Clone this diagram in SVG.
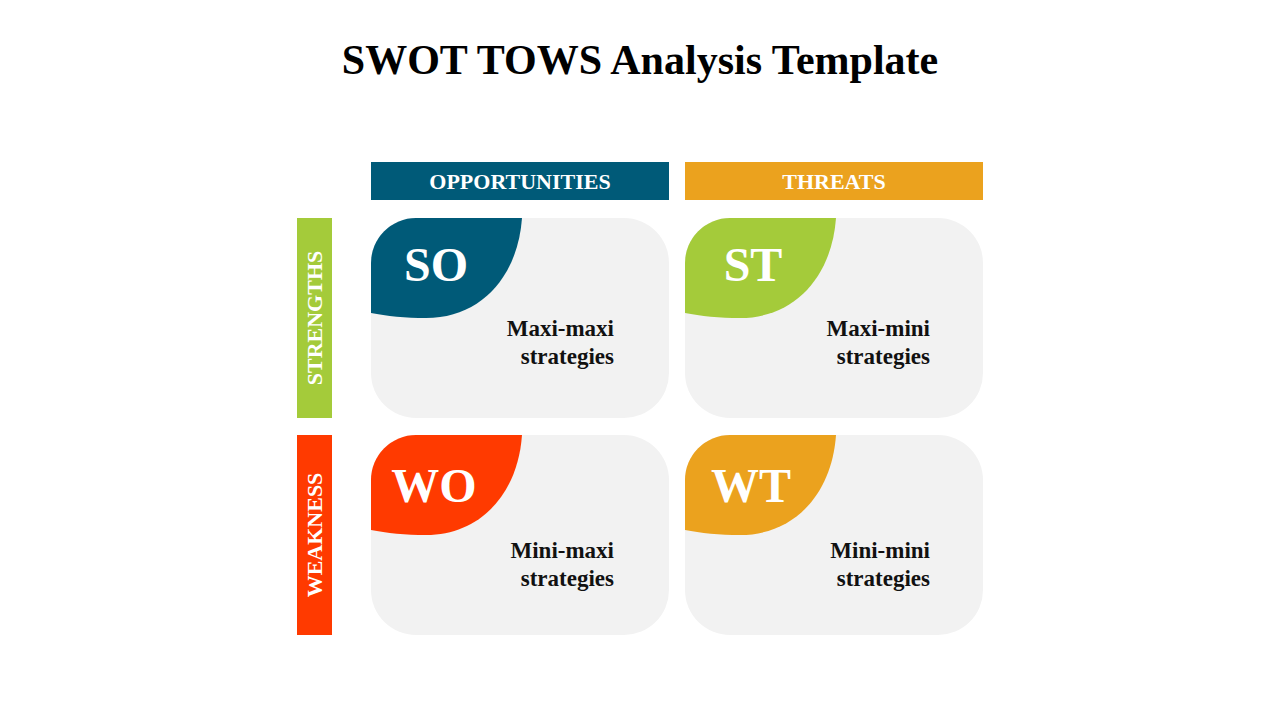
<svg xmlns="http://www.w3.org/2000/svg" width="1280" height="720" viewBox="0 0 1280 720">
<style>
.t{font-family:"Liberation Serif","DejaVu Serif",serif;font-weight:bold}
.card{fill:#F2F2F2}
.hd{fill:#fff;font-size:22px;text-anchor:middle}
.big{fill:#fff;font-size:48px;text-anchor:middle}
.lb{fill:#111;font-size:23px;text-anchor:end}
</style>
<defs>
<path id="blob" d="M0,95 V45 A45,45 0 0 1 45,0 H151 C147,58 110,100 55,100 C35,100 15,98 0,95 Z"/>
</defs>
<rect width="1280" height="720" fill="#fff"/>
<text class="t" x="640" y="74" font-size="42" text-anchor="middle" fill="#000">SWOT TOWS Analysis Template</text>
<g id="opportunities"><rect x="371" y="162" width="298" height="38" fill="#005A78"/><text class="t hd" x="520" y="189">OPPORTUNITIES</text></g>
<g id="threats"><rect x="685" y="162" width="298" height="38" fill="#EBA21E"/><text class="t hd" x="834" y="189">THREATS</text></g>
<g id="strengths"><rect x="297" y="218" width="35" height="200" fill="#A4CB3A"/><text class="t hd" transform="translate(322,318) rotate(-90)">STRENGTHS</text></g>
<g id="weakness"><rect x="297" y="435" width="35" height="200" fill="#FF3A00"/><text class="t hd" transform="translate(322,535) rotate(-90)">WEAKNESS</text></g>
<g id="so"><rect class="card" x="371" y="218" width="298" height="200" rx="45"/><use href="#blob" x="371" y="218" fill="#005A78"/><text class="t big" x="436" y="281">SO</text><text class="t lb" x="614" y="336">Maxi-maxi</text><text class="t lb" x="614" y="364">strategies</text></g>
<g id="st"><rect class="card" x="685" y="218" width="298" height="200" rx="45"/><use href="#blob" x="685" y="218" fill="#A4CB3A"/><text class="t big" x="753" y="281">ST</text><text class="t lb" x="930" y="336">Maxi-mini</text><text class="t lb" x="930" y="364">strategies</text></g>
<g id="wo"><rect class="card" x="371" y="435" width="298" height="200" rx="45"/><use href="#blob" x="371" y="435" fill="#FF3A00"/><text class="t big" x="434" y="502">WO</text><text class="t lb" x="614" y="558">Mini-maxi</text><text class="t lb" x="614" y="586">strategies</text></g>
<g id="wt"><rect class="card" x="685" y="435" width="298" height="200" rx="45"/><use href="#blob" x="685" y="435" fill="#EBA21E"/><text class="t big" x="751" y="502">WT</text><text class="t lb" x="930" y="558">Mini-mini</text><text class="t lb" x="930" y="586">strategies</text></g>
<g id="connectors"/>
</svg>
